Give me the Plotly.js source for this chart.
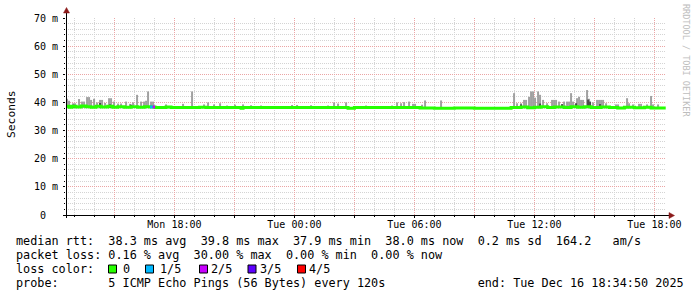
<!DOCTYPE html>
<html><head><meta charset="utf-8">
<script src="https://cdn.plot.ly/plotly-3.0.1.min.js"></script>
<style>html,body{margin:0;padding:0;background:#fff;}#chart{width:697px;height:297px;}</style>
</head><body><div id="chart"></div>
<script>
// ---------------- DATA ----------------
const timeStart = '2025-12-15 12:34:50';
const timeEnd = '2025-12-16 18:34:50';

const medianTime = [
 '2025-12-15 12:34','2025-12-15 12:44','2025-12-15 12:53','2025-12-15 13:05','2025-12-15 13:20',
 '2025-12-15 13:35','2025-12-15 13:50','2025-12-15 14:05','2025-12-15 14:20','2025-12-15 14:40',
 '2025-12-15 14:55','2025-12-15 15:10','2025-12-15 15:30','2025-12-15 15:50','2025-12-15 16:10',
 '2025-12-15 16:30','2025-12-15 16:47','2025-12-15 17:02','2025-12-15 17:35','2025-12-15 17:50',
 '2025-12-15 19:15','2025-12-15 19:35','2025-12-15 21:20','2025-12-15 21:26','2025-12-16 02:41',
 '2025-12-16 03:00','2025-12-16 06:17','2025-12-16 07:00','2025-12-16 08:00','2025-12-16 09:00',
 '2025-12-16 10:50','2025-12-16 11:20','2025-12-16 11:40','2025-12-16 12:00','2025-12-16 12:20',
 '2025-12-16 12:40','2025-12-16 13:00','2025-12-16 13:30','2025-12-16 13:50','2025-12-16 14:10',
 '2025-12-16 14:30','2025-12-16 14:50','2025-12-16 15:20','2025-12-16 15:45','2025-12-16 16:10',
 '2025-12-16 16:30','2025-12-16 17:00','2025-12-16 17:30','2025-12-16 17:50','2025-12-16 18:34'];
const medianValue = [
 38.6,38.3,38.6,38.4,38.7, 38.5,38.3,38.6,38.4,38.6,
 38.3,38.5,38.3,38.5,38.3, 38.5,38.4,38.2,38.4,38.2,
 38.3,38.2,37.9,38.2,37.9, 38.2,38.0,37.9,38.0,37.9,
 38.2,38.4,38.1,38.3,38.5, 38.2,38.4,38.2,38.5,38.3,
 38.5,38.2,38.4,38.2,38.0, 38.3,38.1,38.3,38.0,38.0];

const smokeTime = [
 '2025-12-15 12:38','2025-12-15 12:44','2025-12-15 12:56','2025-12-15 13:02','2025-12-15 13:14',
 '2025-12-15 13:23','2025-12-15 13:29','2025-12-15 13:38','2025-12-15 13:44','2025-12-15 13:50',
 '2025-12-15 13:59','2025-12-15 14:08','2025-12-15 14:17','2025-12-15 14:23','2025-12-15 14:32',
 '2025-12-15 14:44','2025-12-15 14:50','2025-12-15 14:59','2025-12-15 15:11','2025-12-15 15:20',
 '2025-12-15 15:35','2025-12-15 15:47','2025-12-15 15:56','2025-12-15 16:08','2025-12-15 16:20',
 '2025-12-15 16:29','2025-12-15 16:35','2025-12-15 16:41','2025-12-15 16:50','2025-12-15 16:56',
 '2025-12-15 17:35','2025-12-15 18:26','2025-12-15 18:53','2025-12-15 19:29','2025-12-15 19:41',
 '2025-12-15 19:59','2025-12-15 20:17','2025-12-15 20:38','2025-12-15 21:02','2025-12-15 21:26',
 '2025-12-15 21:50','2025-12-15 22:20','2025-12-15 23:53','2025-12-16 00:08','2025-12-16 00:50',
 '2025-12-16 01:41','2025-12-16 01:59','2025-12-16 02:11','2025-12-16 02:35','2025-12-16 03:35',
 '2025-12-16 04:53','2025-12-16 05:08','2025-12-16 05:20','2025-12-16 05:29','2025-12-16 05:44',
 '2025-12-16 05:56','2025-12-16 06:02','2025-12-16 06:23','2025-12-16 06:32','2025-12-16 07:20',
 '2025-12-16 10:59','2025-12-16 11:08','2025-12-16 11:20','2025-12-16 11:29','2025-12-16 11:35',
 '2025-12-16 11:44','2025-12-16 11:50','2025-12-16 11:56','2025-12-16 12:02','2025-12-16 12:11',
 '2025-12-16 12:17','2025-12-16 12:26','2025-12-16 12:38','2025-12-16 12:53','2025-12-16 12:59',
 '2025-12-16 13:05','2025-12-16 13:14','2025-12-16 13:29','2025-12-16 13:38','2025-12-16 13:44',
 '2025-12-16 13:50','2025-12-16 13:56','2025-12-16 14:08','2025-12-16 14:14','2025-12-16 14:20',
 '2025-12-16 14:26','2025-12-16 14:38','2025-12-16 14:44','2025-12-16 14:56','2025-12-16 15:08',
 '2025-12-16 15:14','2025-12-16 15:20','2025-12-16 15:26','2025-12-16 15:35','2025-12-16 16:05',
 '2025-12-16 16:11','2025-12-16 16:38','2025-12-16 16:44','2025-12-16 16:56','2025-12-16 17:14',
 '2025-12-16 17:20','2025-12-16 17:38','2025-12-16 17:50','2025-12-16 17:56','2025-12-16 18:11'];
const smokeTop = [
 41.3,40.6,39.7,39.7,41.2, 40.3,40.3,41.9,41.9,40.9,
 41.3,40.0,40.9,40.9,39.8, 41.5,41.5,40.3,39.6,39.6,
 40.3,39.5,40.0,42.7,40.3, 40.3,40.6,43.9,40.3,40.3,
 39.3,39.5,43.9,39.3,40.0, 39.3,39.7,38.9,39.2,39.3,
 39.0,38.9,39.1,39.1,39.0, 38.9,40.0,39.6,40.0,38.9,
 38.9,40.0,39.7,40.1,40.3, 39.5,39.5,39.2,40.7,40.7,
 43.3,39.7,39.7,40.9,40.9, 42.0,43.9,43.9,41.7,43.9,
 42.7,40.9,39.7,40.9,40.9, 40.9,40.3,40.3,40.3,40.3,
 43.3,40.3,41.5,42.0,40.9, 40.9,44.4,41.3,40.0,40.9,
 40.9,40.9,40.9,39.7,39.3, 39.3,41.5,39.7,39.3,39.5,
 39.5,39.3,42.3,39.3,39.3];

const darkSmokeTime = ['2025-12-15 12:58','2025-12-15 14:17','2025-12-15 14:47','2025-12-15 15:50',
 '2025-12-16 11:20','2025-12-16 12:17','2025-12-16 13:23','2025-12-16 14:05','2025-12-16 14:41',
 '2025-12-16 14:47','2025-12-16 15:17'];
const darkSmokeTop = [39.2,39.8,39.3,39.2, 39.3,39.6,39.4,39.7,41.0, 40.3,39.4];
const smokeFloor = 38.0;

const lossStart = ['2025-12-15 16:47','2025-12-15 16:55'];
const lossEnd   = ['2025-12-15 16:55','2025-12-15 17:02'];
const lossLevel = [1, 2];
const lossValue = [38.4, 38.4];

const lossLabels = ['0','1/5','2/5','3/5','4/5'];
const lossColors = ['#26ff00','#00b8ff','#c800ff','#5e00ff','#ff0000'];

const yTickValues = [0,10,20,30,40,50,60,70];
const yTickLabels = ['0  ','10 m','20 m','30 m','40 m','50 m','60 m','70 m'];
const xTickTimes = ['2025-12-15 15:00','2025-12-15 18:00','2025-12-15 21:00','2025-12-16 00:00',
 '2025-12-16 03:00','2025-12-16 06:00','2025-12-16 09:00','2025-12-16 12:00','2025-12-16 15:00','2025-12-16 18:00'];
const xTickLabels = ['','Mon 18:00','','Tue 00:00','','Tue 06:00','','Tue 12:00','','Tue 18:00'];

const rttStats = [38.3, 39.8, 37.9, 38.0, 0.2];   // avg max min now sd (ms)
const rttRate = 164.2;
const lossStats = [0.16, 30.00, 0.00, 0.00];     // avg max min now (%)
const probeText = '5 ICMP Echo Pings (56 Bytes) every 120s';
const endText = 'end: Tue Dec 16 18:34:50 2025';

// ---------------- LAYOUT HELPERS ----------------
const W=697, H=297, L=66, R=31, T=18, B=82;
const PW=W-L-R, PH=H-T-B;
const px = x => (x-L)/PW;
const py = y => (H-B-y)/PH;
const nb = s => s.replace(/ /g,'\u00a0');
const MONO = 'DejaVu Sans Mono';
const FS = 11.8;
const TFS = 10;

const traces = [];
traces.push({type:'bar', x:smokeTime, base:smokeFloor, y:smokeTop.map(v=>v-smokeFloor),
  width:360000, marker:{color:'#a0a0a0', line:{width:0}}, hoverinfo:'skip', showlegend:false});
traces.push({type:'bar', x:darkSmokeTime, base:smokeFloor, y:darkSmokeTop.map(v=>v-smokeFloor),
  width:360000, marker:{color:'#4a4a4a', line:{width:0}}, hoverinfo:'skip', showlegend:false});
traces.push({type:'scatter', mode:'lines', x:medianTime, y:medianValue,
  line:{color:lossColors[0], width:3, shape:'hv'}, hoverinfo:'skip', showlegend:false});
lossStart.forEach((s,i)=>{
  traces.push({type:'scatter', mode:'lines', x:[s,lossEnd[i]], y:[lossValue[i],lossValue[i]],
    line:{color:lossColors[lossLevel[i]], width:3}, hoverinfo:'skip', showlegend:false});
});

const f1 = v => v.toFixed(1), f2 = v => v.toFixed(2);
const line1 = 'median rtt:  ' + f1(rttStats[0]) + ' ms avg  ' + f1(rttStats[1]) + ' ms max  ' +
  f1(rttStats[2]) + ' ms min  ' + f1(rttStats[3]) + ' ms now  ' + f1(rttStats[4]) + ' ms sd  ' + f1(rttRate) + '   am/s';
const line2 = 'packet loss: ' + f2(lossStats[0]) + ' % avg  ' + f2(lossStats[1]) + ' % max  ' +
  f2(lossStats[2]) + ' % min  ' + f2(lossStats[3]) + ' % now';
const line4 = 'probe:       ' + probeText + '             ' + endText;

const textAnn = (t, x, y, extra) => Object.assign({text:nb(t), xref:'paper', yref:'paper', x:px(x), y:py(y),
  xanchor:'left', yanchor:'middle', showarrow:false, borderpad:0, borderwidth:0,
  font:{family:MONO, size:FS, color:'#000'}}, extra||{});

const annotations = [
  textAnn(line1, 16, 241),
  textAnn(line2, 16, 255.3),
  textAnn('loss color:', 16, 269),
  textAnn(line4, 16, 283.3),
  {text:'Seconds', xref:'paper', yref:'paper', x:px(11), y:py(114), textangle:-90, showarrow:false,
   xanchor:'center', yanchor:'middle', font:{family:MONO, size:11.3, color:'#000'}},
  {text:nb('RRDTOOL / TOBI OETIKER'), xref:'paper', yref:'paper', x:px(686), y:py(60), textangle:90, showarrow:false,
   xanchor:'center', yanchor:'middle', font:{family:MONO, size:8.5, color:'#bdbdbd'}}
];
const boxX = [108, 145, 199, 247.5, 297];
const labX = [123, 160, 211, 260, 309];
const shapes = [];
lossLabels.forEach((lab,i)=>{
  annotations.push(textAnn(lab, labX[i], 269));
  shapes.push({type:'rect', xref:'paper', yref:'paper', x0:px(boxX[i]+0.5), x1:px(boxX[i]+8.5),
    y0:py(265), y1:py(273), fillcolor:lossColors[i], line:{color:'#000', width:1}, layer:'above'});
});
// axes with arrows
shapes.push({type:'line', xref:'paper', yref:'paper', x0:px(66.5), x1:px(66.5), y0:py(218), y1:py(12), line:{color:'#000', width:1}, layer:'above'});
shapes.push({type:'line', xref:'paper', yref:'paper', x0:px(63), x1:px(670), y0:py(215.5), y1:py(215.5), line:{color:'#000', width:1}, layer:'above'});
shapes.push({type:'path', xref:'paper', yref:'paper', layer:'above', fillcolor:'#8b1a1a', line:{color:'#8b1a1a', width:0.5},
  path:`M ${px(63.5)} ${py(13)} L ${px(69.5)} ${py(13)} L ${px(66.5)} ${py(7.5)} Z`});
shapes.push({type:'path', xref:'paper', yref:'paper', layer:'above', fillcolor:'#8b1a1a', line:{color:'#8b1a1a', width:0.5},
  path:`M ${px(669)} ${py(212.5)} L ${px(669)} ${py(218.5)} L ${px(674.5)} ${py(215.5)} Z`});

const layout = {
  width:W, height:H, margin:{l:L, r:R, t:T, b:B}, paper_bgcolor:'#fff', plot_bgcolor:'#fff',
  barmode:'overlay', showlegend:false,
  xaxis:{type:'date', range:[timeStart,timeEnd], tickmode:'array', tickvals:xTickTimes, ticktext:xTickLabels.map(nb),
    showgrid:true, gridcolor:'#eba5a5', griddash:'1px,1px', gridwidth:1, zeroline:false, showline:false,
    ticks:'outside', ticklen:2, tickcolor:'#000', ticklabelstandoff:-2, tickfont:{family:MONO, size:TFS, color:'#000'},
    minor:{dtick:3600000, tick0:'2025-12-15 13:00', showgrid:true, gridcolor:'#d4d4d4', griddash:'1px,1px', ticks:'outside', ticklen:1, tickcolor:'#000'},
    fixedrange:true},
  yaxis:{range:[0,70], tickmode:'array', tickvals:yTickValues, ticktext:yTickLabels.map(nb),
    showgrid:true, gridcolor:'#eba5a5', griddash:'1px,1px', gridwidth:1, zeroline:false, showline:false,
    ticks:'outside', ticklen:2, tickcolor:'#000', ticklabelstandoff:3, tickfont:{family:MONO, size:TFS, color:'#000'},
    minor:{dtick:2, tick0:0, showgrid:true, gridcolor:'#d4d4d4', griddash:'1px,1px', ticks:'outside', ticklen:1, tickcolor:'#000'},
    fixedrange:true},
  annotations:annotations, shapes:shapes
};
Plotly.newPlot('chart', traces, layout, {displayModeBar:false, staticPlot:true});
</script></body></html>
